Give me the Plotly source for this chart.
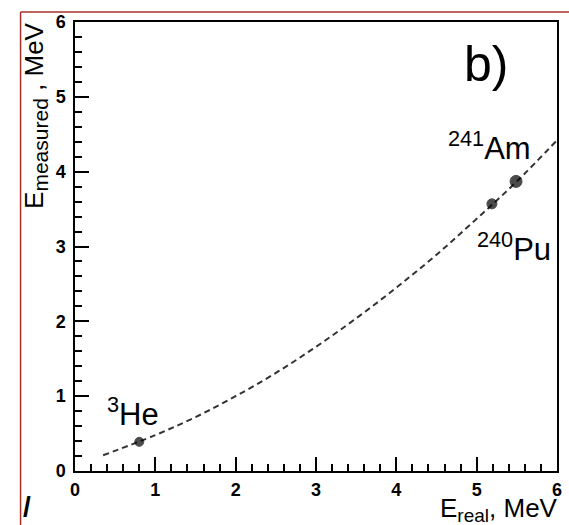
import plotly.graph_objects as go

# ---- data ----
isotopes = ["<sup>3</sup>He", "<sup>240</sup>Pu", "<sup>241</sup>Am"]
e_real = [0.80, 5.19, 5.49]
e_measured = [0.39, 3.57, 3.87]

fit_x = [0.35, 1.0, 1.5, 2.0, 2.5, 3.0, 3.5, 4.0, 4.5, 5.0, 5.5, 6.0]
fit_y = [0.21, 0.48, 0.72, 1.00, 1.31, 1.66, 2.04, 2.45, 2.89, 3.37, 3.87, 4.42]

x_ticks = [0, 1, 2, 3, 4, 5, 6]
y_ticks = [0, 1, 2, 3, 4, 5, 6]

# ---- geometry ----
W, H = 569, 525
L, R, T, B = 75, 562, 22, 471
pw, ph = R - L, B - T


def px(x):
    return (x - L) / pw


def py(y):
    return (B - y) / ph


FONT = "Liberation Sans, Arial, Helvetica, sans-serif"

fig = go.Figure()

fig.add_trace(go.Scatter(
    x=fit_x, y=fit_y, mode="lines",
    line=dict(color="#333333", width=2, dash="6px,4px", shape="spline", smoothing=1.0),
    hoverinfo="skip", showlegend=False,
))

marker_sizes = [9, 10, 12]
fig.add_trace(go.Scatter(
    x=e_real, y=e_measured, mode="markers",
    marker=dict(color="black", size=marker_sizes, symbol="circle",
                line=dict(color="black", width=1)),
    text=isotopes, showlegend=False,
))

axis_common = dict(
    showgrid=False, zeroline=False, showline=True, mirror=True,
    linecolor="black", linewidth=1.5,
    ticks="inside", ticklen=14, tickwidth=1.5, tickcolor="black",
    tickfont=dict(family=FONT, size=18, color="black", weight="bold"),
    minor=dict(ticks="inside", ticklen=7, tickwidth=1.5, tickcolor="black", dtick=0.2),
    fixedrange=True,
)

fig.update_xaxes(range=[0, 6], tickvals=x_ticks, ticktext=[str(v) for v in x_ticks],
                 ticklabelstandoff=2, **axis_common)
fig.update_yaxes(range=[0, 6], tickvals=y_ticks, ticktext=[str(v) for v in y_ticks],
                 ticklabelstandoff=4, **axis_common)

ann = []
# isotope labels
label_pos = [(0.72, 0.79), (5.47, 2.99), (5.16, 4.34)]
for txt, (lx, ly) in zip(isotopes, label_pos):
    ann.append(dict(x=lx, y=ly, xref="x", yref="y", text=txt, showarrow=False,
                    xanchor="center", yanchor="middle",
                    font=dict(family=FONT, size=31, color="black")))
# panel label
ann.append(dict(x=5.12, y=5.44, xref="x", yref="y", text="b)", showarrow=False,
                xanchor="center", yanchor="middle",
                font=dict(family=FONT, size=50, color="black")))
# axis titles
ann.append(dict(x=px(565), y=py(509), xref="paper", yref="paper",
                text='E<sub><span style="font-size:19px">real</span></sub>, MeV',
                showarrow=False, xanchor="right", yanchor="middle",
                font=dict(family=FONT, size=26, color="black")))
ann.append(dict(x=px(35), y=py(20), xref="paper", yref="paper",
                text='E<sub><span style="font-size:21px">measured</span></sub> , MeV',
                textangle=-90, showarrow=False, xanchor="center", yanchor="top",
                font=dict(family=FONT, size=26, color="black")))
# fragment of neighbouring panel
ann.append(dict(x=px(26), y=py(506), xref="paper", yref="paper", text="/",
                showarrow=False, xanchor="center", yanchor="middle",
                font=dict(family=FONT, size=28, color="black", weight="bold")))

shapes = [
    dict(type="line", xref="paper", yref="paper", x0=px(20), x1=px(20), y0=py(12), y1=py(530),
         line=dict(color="#a8322a", width=1.5)),
    dict(type="line", xref="paper", yref="paper", x0=px(20), x1=px(575), y0=py(12), y1=py(12),
         line=dict(color="#a8322a", width=1.5)),
]

fig.update_layout(
    width=W, height=H,
    margin=dict(l=L, r=W - R, t=T, b=H - B, pad=0),
    paper_bgcolor="white", plot_bgcolor="white",
    annotations=ann, shapes=shapes,
    showlegend=False,
)

fig.write_html("out.html", config={"displayModeBar": False})
